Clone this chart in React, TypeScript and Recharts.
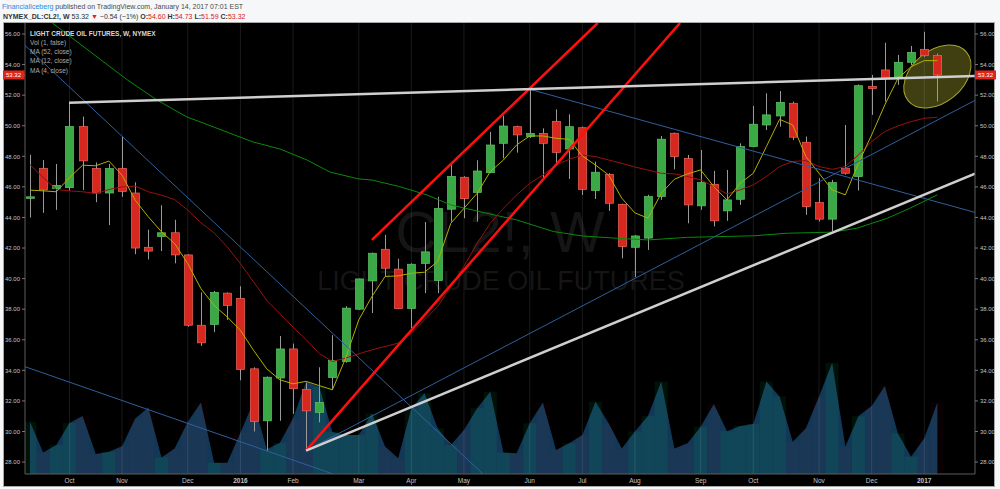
import React from 'react';
import { ComposedChart, Bar, Line, Area, XAxis, YAxis, CartesianGrid, ReferenceDot, Cell } from 'recharts';

// ---- categories (weekly bars) ----
const weeks = [
  '2015-09-14', '2015-09-21', '2015-09-28', '2015-10-05', '2015-10-12', '2015-10-19', '2015-10-26',
  '2015-11-02', '2015-11-09', '2015-11-16', '2015-11-23', '2015-11-30', '2015-12-07', '2015-12-14',
  '2015-12-21', '2015-12-28', '2016-01-04', '2016-01-11', '2016-01-18', '2016-01-25', '2016-02-01',
  '2016-02-08', '2016-02-15', '2016-02-22', '2016-02-29', '2016-03-07', '2016-03-14', '2016-03-21',
  '2016-03-28', '2016-04-04', '2016-04-11', '2016-04-18', '2016-04-25', '2016-05-02', '2016-05-09',
  '2016-05-16', '2016-05-23', '2016-05-30', '2016-06-06', '2016-06-13', '2016-06-20', '2016-06-27',
  '2016-07-04', '2016-07-11', '2016-07-18', '2016-07-25', '2016-08-01', '2016-08-08', '2016-08-15',
  '2016-08-22', '2016-08-29', '2016-09-05', '2016-09-12', '2016-09-19', '2016-09-26', '2016-10-03',
  '2016-10-10', '2016-10-17', '2016-10-24', '2016-10-31', '2016-11-07', '2016-11-14', '2016-11-21',
  '2016-11-28', '2016-12-05', '2016-12-12', '2016-12-19', '2016-12-26', '2017-01-02', '2017-01-09',
];

// ---- OHLC ----
const opens = [45.25, 47.2, 45.9, 45.95, 49.95, 47.2, 45.6, 47.2, 45.6, 42.05, 42.75, 43.0, 41.55, 36.95, 37.0, 39.05, 38.7, 34.1, 30.7, 33.5, 35.4, 32.75, 31.25, 33.53, 34.58, 38.0, 39.85, 41.92, 40.62, 38.04, 40.99, 39.87, 44.54, 46.63, 45.63, 46.93, 48.85, 49.94, 49.29, 49.5, 50.29, 48.48, 49.87, 45.76, 46.82, 44.86, 42.05, 42.65, 45.37, 49.51, 47.85, 44.76, 46.17, 44.43, 45.19, 48.64, 50.05, 50.64, 51.47, 48.92, 44.98, 43.89, 47.22, 46.67, 52.56, 53.65, 53.21, 54.15, 55.0, 54.6];
const highs = [48.1, 47.75, 47.5, 51.5, 50.6, 47.6, 47.5, 49.3, 46.3, 43.2, 44.8, 43.85, 41.6, 39.1, 39.2, 39.1, 39.5, 34.2, 33.6, 36.25, 35.75, 33.2, 34.2, 36.3, 38.2, 40.0, 41.7, 42.86, 41.3, 41.0, 43.7, 45.36, 47.48, 46.7, 47.74, 49.6, 50.66, 50.0, 52.38, 49.83, 51.07, 50.75, 49.95, 47.65, 46.9, 44.9, 42.85, 45.48, 49.33, 49.55, 48.09, 48.42, 47.05, 47.11, 48.85, 51.3, 52.12, 52.27, 51.58, 49.29, 46.57, 46.46, 50.05, 52.7, 53.32, 55.43, 54.63, 55.22, 56.15, 54.73];
const lows = [44.0, 44.3, 44.5, 45.75, 45.8, 45.0, 43.5, 45.35, 41.6, 41.25, 41.8, 41.0, 36.85, 35.6, 36.5, 37.3, 33.35, 30.0, 28.75, 30.7, 31.15, 28.74, 30.6, 32.73, 34.5, 37.95, 37.75, 40.14, 38.0, 36.76, 39.05, 39.05, 43.73, 43.95, 43.73, 46.9, 47.87, 48.24, 49.2, 46.56, 47.54, 46.52, 45.47, 45.21, 44.43, 41.33, 40.1, 41.88, 45.15, 47.15, 43.62, 44.5, 43.41, 43.78, 44.82, 48.6, 49.72, 49.94, 49.07, 44.17, 43.73, 43.08, 46.8, 45.76, 50.71, 51.58, 52.67, 53.97, 54.5, 51.59];
const closes = [45.35, 45.8, 46.1, 49.95, 47.7, 45.6, 47.2, 45.7, 42.0, 41.8, 43.0, 41.55, 36.95, 35.8, 39.1, 38.25, 34.05, 30.65, 33.55, 35.4, 32.8, 31.35, 31.9, 34.65, 38.07, 39.98, 41.66, 40.68, 38.04, 40.94, 41.75, 44.58, 46.69, 45.23, 47.04, 48.74, 49.98, 49.4, 49.5, 48.85, 48.26, 49.94, 45.84, 46.96, 44.93, 42.1, 42.79, 45.37, 49.12, 47.98, 44.82, 46.28, 43.78, 45.15, 48.64, 50.1, 50.71, 51.53, 49.25, 44.71, 43.89, 46.28, 46.89, 52.62, 52.43, 53.1, 54.15, 54.8, 54.58, 53.32];

// ---- volume (thousand contracts) ----
const volumes = [139, 57, 77, 136, 154, 53, 59, 74, 148, 177, 44, 68, 139, 190, 30, 30, 110, 192, 66, 83, 148, 246, 232, 112, 104, 104, 161, 73, 42, 175, 215, 122, 77, 117, 175, 219, 57, 55, 135, 190, 64, 82, 104, 192, 135, 68, 113, 155, 246, 68, 82, 126, 186, 114, 128, 133, 246, 206, 86, 122, 206, 296, 73, 154, 181, 234, 108, 46, 95, 190];

// ---- moving averages ----
const ma4 = [45.79, 45.74, 45.68, 46.6, 47.42, 47.38, 47.69, 46.77, 45.13, 44.04, 43.06, 42.29, 40.98, 39.34, 38.25, 37.49, 36.62, 35.31, 34.1, 33.38, 33.12, 33.28, 33.0, 32.73, 34.8, 37.3, 38.83, 40.14, 40.18, 40.35, 40.42, 41.12, 43.62, 44.6, 45.58, 47.0, 47.76, 48.74, 49.33, 49.33, 49.18, 49.11, 48.02, 47.43, 46.78, 45.26, 44.3, 43.95, 45.58, 46.5, 46.85, 47.11, 46.02, 45.15, 46.24, 46.89, 48.64, 50.42, 50.05, 47.98, 46.89, 45.8, 45.48, 47.55, 49.4, 51.36, 53.1, 53.86, 54.26, 54.26];
const ma12 = [47.45, 46.62, 45.83, 45.74, 45.68, 45.57, 45.83, 46.0, 46.05, 45.68, 45.46, 45.17, 44.48, 43.65, 42.99, 42.07, 40.98, 39.78, 38.58, 37.71, 36.83, 36.0, 35.1, 34.58, 34.8, 35.08, 35.34, 35.56, 35.78, 36.43, 37.3, 38.17, 39.48, 40.8, 42.31, 43.62, 44.6, 45.47, 46.23, 46.78, 47.43, 47.8, 48.09, 47.98, 47.76, 47.54, 47.3, 47.1, 46.89, 46.85, 46.68, 46.46, 46.02, 45.54, 45.8, 46.13, 46.68, 47.33, 47.66, 47.72, 47.33, 47.15, 47.33, 48.09, 48.96, 49.62, 49.99, 50.27, 50.49, 50.55];
const ma52Pos = [1.7, 7.4, 9.66, 11.94, 13.16, 15.97, 16.96, 19.01, 21.06, 22.81, 25, 26, 28.1, 30.2, 32, 34.7, 37, 39.8, 42, 44.6, 47, 50, 55, 57.6, 61, 62.9, 65.2, 66.9, 69];
const ma52Val = [56.72, 53.0, 51.68, 50.57, 50.18, 49.26, 48.94, 48.48, 47.76, 46.97, 46.52, 46.45, 46.02, 45.47, 44.82, 44.28, 43.84, 43.08, 42.79, 42.64, 42.53, 42.7, 42.8, 42.97, 43.04, 43.3, 43.95, 44.6, 45.48];

// ---- drawn trend lines: [startBar, startPrice, endBar, endPrice] ----
const whiteTop = [2.97, 51.51, 71.86, 53.25];
const whiteRise = [20.99, 28.75, 71.86, 46.87];
const redLow = [20.99, 28.75, 49.43, 56.72];
const redHigh = [26.0, 42.53, 43.17, 56.72];
const blueSteep = [-0.38, 55.25, 34.45, 27.22];
const blueLowLeft = [-0.38, 34.24, 23.04, 27.22];
const blueRise = [20.99, 28.75, 71.86, 51.66];
const blueFall = [38.02, 52.38, 71.86, 44.33];

// ---- highlight ellipse centre [bar, price] ----
const highlight = [69, 53.22];

// ---- ticks ----
const priceTicks = [28, 30, 32, 34, 36, 38, 40, 42, 44, 46, 48, 50, 52, 54, 56];
const lastPrice = 53.32;
const xTicks = [3, 7, 12, 16, 20, 25, 29, 33, 38, 42, 46, 51, 55, 60, 64, 68];
const xTickLabels = ['Oct', 'Nov', 'Dec', '2016', 'Feb', 'Mar', 'Apr', 'May', 'Jun', 'Jul', 'Aug', 'Sep', 'Oct', 'Nov', 'Dec', '2017'];

const X_DOMAIN: [number, number] = [-0.38, 71.86];
const Y_DOMAIN: [number, number] = [27.22, 56.72];
const VOL_DOMAIN: [number, number] = [0, 1200];

const FONT = "'Liberation Sans', Arial, sans-serif";

const candleData = weeks.map((w, i) => ({
  i,
  week: w,
  open: opens[i],
  high: highs[i],
  low: lows[i],
  close: closes[i],
  range: [lows[i], highs[i]],
  vol: volumes[i],
}));

const seg = (s: number[]) => [
  { i: s[0], v: s[1] },
  { i: s[2], v: s[3] },
];
const ma4Data = ma4.map((v, i) => ({ i, v }));
const ma12Data = ma12.map((v, i) => ({ i, v }));
const ma52Data = ma52Pos.map((p, k) => ({ i: p, v: ma52Val[k] }));

const Candle = (props: any) => {
  const { x, y, width, height, payload } = props;
  if (!payload || height == null) return null;
  const { open, close, high, low } = payload;
  const top0 = Math.min(y, y + height);
  const h = Math.abs(height);
  const cx = Math.round(x + width / 2) + 0.5;
  const ppu = h / (high - low);
  const yOf = (v: number) => top0 + (high - v) * ppu;
  const up = close >= open;
  const bt = yOf(Math.max(open, close));
  const bb = yOf(Math.min(open, close));
  const bw = 8;
  return (
    <g>
      <line x1={cx} x2={cx} y1={top0} y2={top0 + h} stroke="#9a9a9a" strokeWidth={1} />
      <rect
        x={cx - bw / 2}
        y={bt}
        width={bw}
        height={Math.max(1.5, bb - bt)}
        fill={up ? '#3aa845' : '#d6281e'}
        stroke={up ? '#5fc468' : '#f0675b'}
        strokeWidth={0.7}
      />
    </g>
  );
};

const Highlight = (p: any) => (
  <ellipse
    cx={p.cx}
    cy={p.cy}
    rx={38}
    ry={26}
    transform={`rotate(-40 ${p.cx} ${p.cy})`}
    fill="#d2d23c"
    fillOpacity={0.3}
    stroke="#a5a52c"
    strokeWidth={1}
  />
);

const LeftTick = (p: any) => {
  const { x, y, payload } = p;
  if (payload.value === lastPrice) {
    return (
      <g>
        <rect x={x - 17} y={y - 4.5} width={21.5} height={9} fill="#e0251b" />
        <text x={x - 6.5} y={y + 2.2} textAnchor="middle" fontSize={6} fill="#ffffff" fontFamily={FONT}>
          {payload.value.toFixed(2)}
        </text>
      </g>
    );
  }
  return (
    <text x={x} y={y + 2.2} textAnchor="end" fontSize={6} fill="#c4c4c4" fontFamily={FONT}>
      {payload.value.toFixed(2)}
    </text>
  );
};

const RightTick = (p: any) => {
  const { x, y, payload } = p;
  if (payload.value === lastPrice) {
    return (
      <g>
        <rect x={x - 5} y={y - 4.5} width={21} height={9} fill="#e0251b" />
        <text x={x + 5.5} y={y + 2.2} textAnchor="middle" fontSize={6} fill="#ffffff" fontFamily={FONT}>
          {payload.value.toFixed(2)}
        </text>
      </g>
    );
  }
  return (
    <text x={x} y={y + 2.2} textAnchor="start" fontSize={6} fill="#c4c4c4" fontFamily={FONT}>
      {payload.value.toFixed(2)}
    </text>
  );
};

const XTick = (p: any) => {
  const { x, y, payload } = p;
  const k = xTicks.indexOf(payload.value);
  const label = k >= 0 ? xTickLabels[k] : '';
  const bold = label === '2016' || label === '2017';
  return (
    <text x={x} y={y + 9} textAnchor="middle" fontSize={6.5} fontWeight={bold ? 700 : 400} fill="#c4c4c4" fontFamily={FONT}>
      {label}
    </text>
  );
};

const lineProps = { dot: false, activeDot: false, isAnimationActive: false, yAxisId: 'price', dataKey: 'v' } as any;

export default function App() {
  return (
    <div style={{ position: 'absolute', left: 0, top: 0, width: 1000, height: 489, background: '#f6f7f9', overflow: 'hidden' }}>
      {/* black chart panel */}
      <div style={{ position: 'absolute', left: 3, top: 22, width: 990, height: 463, background: '#000', border: '1px solid #a8a8a8' }} />

      {/* watermark */}
      <svg width={1000} height={489} style={{ position: 'absolute', left: 0, top: 0 }}>
        <text x={500} y={252} textAnchor="middle" fontSize={58} fill="#151515" fontFamily={FONT}>CL2!, W</text>
        <text x={501} y={290} textAnchor="middle" fontSize={27} fill="#151515" fontFamily={FONT}>LIGHT CRUDE OIL FUTURES</text>
      </svg>

      {/* layer A: volume + highlight */}
      <div style={{ position: 'absolute', left: 0, top: 0 }}>
        <ComposedChart width={1000} height={489} data={candleData} margin={{ top: 23, right: 25, bottom: 15, left: 25 }}>
          <XAxis dataKey="i" type="number" domain={X_DOMAIN} allowDataOverflow hide />
          <YAxis yAxisId="vol" domain={VOL_DOMAIN} allowDataOverflow hide />
          <YAxis yAxisId="price" domain={Y_DOMAIN} allowDataOverflow hide />
          <Area yAxisId="vol" dataKey="vol" type="linear" fill="#123858" fillOpacity={1} stroke="none" isAnimationActive={false} />
          <Bar yAxisId="vol" dataKey="vol" barSize={13} isAnimationActive={false}>
            {candleData.map((d, k) => (
              <Cell key={k} fill={d.close >= d.open ? '#00ff60' : '#ff1a1a'} fillOpacity={d.close >= d.open ? 0.07 : 0.035} />
            ))}
          </Bar>
          <ReferenceDot yAxisId="price" x={highlight[0]} y={highlight[1]} shape={Highlight} ifOverflow="visible" />
        </ComposedChart>
      </div>

      {/* layer B: price */}
      <div style={{ position: 'absolute', left: 0, top: 0 }}>
        <ComposedChart width={1000} height={489} data={candleData} margin={{ top: 23, right: 3, bottom: 3, left: 3 }}>
          <CartesianGrid stroke="#ffffff" strokeOpacity={0.1} horizontalValues={priceTicks} verticalValues={xTicks} />
          <XAxis
            dataKey="i"
            type="number"
            domain={X_DOMAIN}
            allowDataOverflow
            ticks={xTicks}
            interval={0}
            tick={<XTick />}
            tickLine={false}
            tickSize={0}
            tickMargin={0}
            height={12}
            axisLine={{ stroke: '#5c5c5c' }}
          />
          <YAxis
            yAxisId="price"
            orientation="left"
            domain={Y_DOMAIN}
            allowDataOverflow
            ticks={[...priceTicks, lastPrice]}
            interval={0}
            tick={<LeftTick />}
            tickSize={3}
            tickMargin={2}
            tickLine={{ stroke: '#777' }}
            width={22}
            axisLine={{ stroke: '#5c5c5c' }}
          />
          <YAxis
            yAxisId="priceR"
            orientation="right"
            domain={Y_DOMAIN}
            allowDataOverflow
            ticks={[...priceTicks, lastPrice]}
            interval={0}
            tick={<RightTick />}
            tickSize={3}
            tickMargin={2}
            tickLine={{ stroke: '#777' }}
            width={22}
            axisLine={{ stroke: '#5c5c5c' }}
          />
          <Bar yAxisId="price" dataKey="range" barSize={8} shape={Candle} isAnimationActive={false} />
          <Line {...lineProps} data={ma52Data} stroke="#0b8a0b" strokeWidth={1} />
          <Line {...lineProps} data={ma12Data} stroke="#991111" strokeWidth={1} />
          <Line {...lineProps} data={ma4Data} stroke="#b0b000" strokeWidth={1} />
          <Line {...lineProps} data={seg(blueSteep)} stroke="#2f5f9e" strokeWidth={1} />
          <Line {...lineProps} data={seg(blueLowLeft)} stroke="#2f5f9e" strokeWidth={1} />
          <Line {...lineProps} data={seg(blueRise)} stroke="#2f5f9e" strokeWidth={1} />
          <Line {...lineProps} data={seg(blueFall)} stroke="#2f5f9e" strokeWidth={1} />
          <Line {...lineProps} data={seg(redLow)} stroke="#ff1010" strokeWidth={2.5} />
          <Line {...lineProps} data={seg(redHigh)} stroke="#ff1010" strokeWidth={2.5} />
          <Line {...lineProps} data={seg(whiteRise)} stroke="#cfcfcf" strokeWidth={2.5} />
          <Line {...lineProps} yAxisId="priceR" data={seg(whiteTop)} stroke="#cfcfcf" strokeWidth={2.5} />
        </ComposedChart>
      </div>

      {/* header and legend */}
      <svg width={1000} height={489} style={{ position: 'absolute', left: 0, top: 0, pointerEvents: 'none' }}>
        <text x={2} y={9} fontSize={7} fontFamily={FONT}>
          <tspan fill="#2a8ad8">FinancialIceberg</tspan>
          <tspan fill="#4a4a4a"> published on TradingView.com, January 14, 2017 07:01 EST</tspan>
        </text>
        <text x={3} y={18.5} fontSize={7} fontFamily={FONT} fill="#333">
          <tspan fontWeight={700}>NYMEX_DL:CL2!, W</tspan>
          <tspan> 53.32 </tspan>
          <tspan fill="#d62020">▼</tspan>
          <tspan> −0.54 (−1%) </tspan>
          <tspan fontWeight={700}>O:</tspan>
          <tspan fill="#d62020">54.60</tspan>
          <tspan fontWeight={700}> H:</tspan>
          <tspan fill="#d62020">54.73</tspan>
          <tspan fontWeight={700}> L:</tspan>
          <tspan fill="#d62020">51.59</tspan>
          <tspan fontWeight={700}> C:</tspan>
          <tspan fill="#d62020">53.32</tspan>
        </text>
        <text x={30} y={35.5} fontSize={6.5} fontWeight={700} fill="#d6d6d6" fontFamily={FONT}>LIGHT CRUDE OIL FUTURES, W, NYMEX</text>
        <text x={30} y={44.8} fontSize={6.5} fill="#ababab" fontFamily={FONT}>Vol (1, false)</text>
        <text x={30} y={54.1} fontSize={6.5} fill="#ababab" fontFamily={FONT}>MA (52, close)</text>
        <text x={30} y={63.4} fontSize={6.5} fill="#ababab" fontFamily={FONT}>MA (12, close)</text>
        <text x={30} y={72.7} fontSize={6.5} fill="#ababab" fontFamily={FONT}>MA (4, close)</text>
      </svg>
    </div>
  );
}
